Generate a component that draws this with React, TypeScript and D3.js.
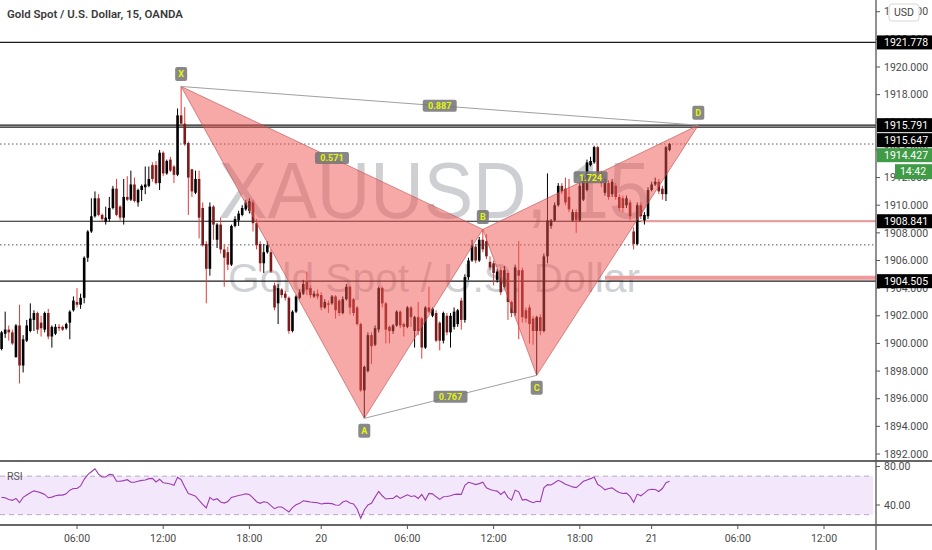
import * as React from 'react';
import * as d3 from 'd3';

// XAUUSD 15m candles, 19th 00:45 -> 21st 01:00
const opens = [
  1899.6, 1900.7, 1901.0, 1900.8, 1899.0, 1901.3, 1898.4, 1900.2, 1900.9, 1901.7,
  1902.2, 1901.5, 1901.0, 1902.2, 1900.5, 1900.7, 1901.2, 1901.2, 1901.1, 1901.5,
  1902.4, 1903.0, 1902.8, 1903.3, 1906.2, 1908.1, 1909.2, 1910.5, 1909.3, 1908.8,
  1909.0, 1909.8, 1911.2, 1909.9, 1909.1, 1910.6, 1910.4, 1911.5, 1910.2, 1911.1,
  1911.3, 1911.4, 1912.9, 1912.9, 1911.6, 1913.8, 1912.3, 1913.3, 1912.8, 1912.2,
  1916.5, 1915.9, 1914.5, 1912.6, 1910.9, 1911.9, 1909.8, 1907.2, 1905.4, 1909.9,
  1907.5, 1908.6, 1906.8, 1906.6, 1905.7, 1908.5, 1908.9, 1909.3, 1909.7, 1909.6,
  1910.2, 1908.7, 1907.2, 1905.8, 1906.6, 1906.6, 1904.2, 1902.9, 1903.9, 1903.6,
  1903.3, 1900.9, 1902.3, 1903.3, 1903.6, 1904.5, 1904.0, 1903.4, 1903.6, 1903.5,
  1902.6, 1902.9, 1902.9, 1903.4, 1903.1, 1902.2, 1903.2, 1904.1, 1903.2, 1902.6,
  1901.4, 1896.6, 1898.0, 1900.6, 1899.9, 1901.0, 1904.0, 1902.9, 1901.2, 1900.9,
  1901.3, 1902.3, 1901.4, 1901.2, 1902.6, 1900.9, 1901.9, 1901.8, 1899.7, 1902.6,
  1902.0, 1902.2, 1901.5, 1900.2, 1902.0, 1900.8, 1901.2, 1901.4, 1903.1, 1901.7,
  1904.8, 1906.0, 1907.0, 1906.0, 1907.5, 1907.4, 1905.9, 1905.8, 1904.6, 1905.3,
  1904.1, 1905.1, 1903.0, 1902.2, 1905.3, 1905.3, 1902.4, 1902.6, 1901.8, 1900.9,
  1901.9, 1900.9, 1906.3, 1908.5, 1908.9, 1910.0, 1911.4, 1911.2, 1910.6, 1908.9,
  1909.5, 1908.9, 1910.4, 1911.1, 1912.9, 1913.1, 1914.2, 1912.3, 1910.9, 1911.6,
  1910.8, 1911.4, 1910.6, 1910.5, 1910.0, 1910.2, 1908.1, 1907.2, 1910.0, 1908.9,
  1909.2, 1911.1, 1911.5, 1911.7, 1911.2, 1910.8, 1914.0,
];
const highs = [
  1900.9, 1902.3, 1901.3, 1901.0, 1901.4, 1902.8, 1900.6, 1901.7, 1902.9, 1902.4,
  1902.3, 1902.0, 1902.3, 1902.5, 1901.3, 1901.4, 1901.4, 1901.3, 1901.5, 1902.4,
  1903.4, 1904.0, 1903.6, 1906.3, 1908.2, 1910.5, 1911.0, 1910.8, 1909.4, 1909.9,
  1910.6, 1911.4, 1911.9, 1910.0, 1911.9, 1912.1, 1912.5, 1912.0, 1911.2, 1911.5,
  1912.8, 1912.8, 1913.1, 1913.2, 1914.0, 1913.9, 1913.3, 1913.5, 1912.9, 1917.0,
  1918.6, 1917.1, 1914.6, 1912.6, 1912.5, 1912.5, 1910.2, 1907.4, 1910.2, 1910.0,
  1908.7, 1909.1, 1907.2, 1907.0, 1908.6, 1909.2, 1909.6, 1910.0, 1910.4, 1910.5,
  1910.4, 1909.0, 1907.4, 1907.2, 1907.4, 1906.8, 1904.4, 1904.3, 1904.0, 1903.8,
  1903.4, 1902.4, 1903.5, 1903.9, 1904.6, 1905.2, 1904.2, 1903.8, 1903.9, 1903.7,
  1903.2, 1903.1, 1903.5, 1903.5, 1903.2, 1903.4, 1904.3, 1904.2, 1903.3, 1902.7,
  1901.5, 1898.4, 1900.8, 1900.8, 1901.3, 1904.1, 1904.1, 1903.0, 1901.3, 1901.4,
  1902.4, 1902.4, 1901.5, 1902.7, 1902.7, 1902.0, 1903.0, 1901.9, 1902.7, 1904.1,
  1902.6, 1902.4, 1901.6, 1902.3, 1902.2, 1902.2, 1902.6, 1902.5, 1903.3, 1905.0,
  1906.2, 1907.5, 1907.2, 1907.7, 1908.25, 1907.9, 1906.3, 1906.0, 1905.4, 1905.5,
  1905.6, 1905.3, 1903.1, 1905.7, 1907.4, 1905.5, 1902.6, 1902.8, 1902.0, 1902.0,
  1902.1, 1906.5, 1912.3, 1909.0, 1910.2, 1911.6, 1911.6, 1912.0, 1911.9, 1909.7,
  1909.7, 1911.6, 1912.1, 1913.3, 1913.5, 1914.3, 1914.3, 1912.5, 1912.0, 1911.8,
  1911.9, 1911.6, 1910.8, 1910.7, 1910.7, 1910.4, 1908.4, 1910.2, 1910.2, 1909.5,
  1911.3, 1911.7, 1912.0, 1911.9, 1911.4, 1914.3, 1914.5,
];
const lows = [
  1899.5, 1900.4, 1900.2, 1899.9, 1899.0, 1897.1, 1897.9, 1900.1, 1900.8, 1900.9,
  1900.7, 1900.5, 1900.8, 1900.3, 1899.7, 1900.6, 1900.9, 1900.9, 1901.0, 1900.3,
  1902.3, 1902.6, 1902.5, 1902.9, 1905.9, 1908.0, 1909.1, 1909.2, 1908.8, 1908.6,
  1908.8, 1909.7, 1909.2, 1908.9, 1908.6, 1910.3, 1910.3, 1910.2, 1909.9, 1910.3,
  1910.8, 1911.3, 1911.7, 1911.5, 1911.1, 1912.1, 1912.2, 1912.4, 1911.6, 1912.1,
  1915.7, 1914.3, 1909.3, 1910.6, 1910.8, 1907.6, 1907.0, 1902.9, 1904.9, 1907.5,
  1906.9, 1906.5, 1904.1, 1905.3, 1905.6, 1908.4, 1908.5, 1909.2, 1909.6, 1909.4,
  1908.1, 1906.8, 1905.2, 1905.1, 1906.5, 1905.1, 1902.4, 1901.4, 1903.3, 1903.1,
  1900.7, 1900.8, 1902.2, 1903.2, 1903.5, 1903.5, 1903.3, 1903.3, 1903.2, 1902.4,
  1902.5, 1902.2, 1902.8, 1901.8, 1902.0, 1902.1, 1903.1, 1902.1, 1902.0, 1901.3,
  1896.5, 1894.6, 1897.9, 1898.5, 1899.8, 1900.8, 1902.6, 1900.0, 1900.0, 1900.7,
  1901.2, 1901.1, 1900.5, 1901.1, 1901.2, 1899.7, 1900.6, 1898.9, 1899.6, 1902.2,
  1901.9, 1900.1, 1899.5, 1900.0, 1900.6, 1899.7, 1901.0, 1901.2, 1901.0, 1901.5,
  1904.6, 1905.9, 1905.8, 1905.9, 1906.6, 1906.1, 1905.3, 1904.2, 1904.4, 1903.5,
  1904.0, 1901.7, 1901.9, 1902.0, 1900.3, 1901.5, 1901.5, 1900.0, 1899.9, 1897.7,
  1900.6, 1900.8, 1905.8, 1908.3, 1908.8, 1909.9, 1910.8, 1910.0, 1909.5, 1908.8,
  1908.0, 1908.8, 1910.3, 1911.0, 1912.8, 1913.0, 1912.1, 1911.3, 1910.7, 1910.4,
  1910.6, 1910.4, 1909.6, 1909.5, 1909.8, 1908.9, 1906.8, 1907.1, 1909.0, 1908.6,
  1909.0, 1911.0, 1911.4, 1910.8, 1910.4, 1910.3, 1913.9,
];
const closes = [
  1900.8, 1901.0, 1900.8, 1900.0, 1901.3, 1898.4, 1900.3, 1901.3, 1901.8, 1902.2,
  1901.0, 1901.1, 1902.2, 1900.5, 1901.2, 1901.2, 1901.1, 1901.0, 1901.4, 1902.3,
  1903.1, 1902.8, 1903.3, 1906.2, 1908.1, 1909.2, 1910.5, 1909.3, 1909.0, 1909.1,
  1909.8, 1911.2, 1909.3, 1909.1, 1910.6, 1910.4, 1911.5, 1910.3, 1911.1, 1911.4,
  1911.5, 1911.9, 1911.9, 1911.6, 1913.8, 1912.3, 1913.2, 1912.5, 1912.2, 1916.5,
  1915.9, 1914.4, 1912.0, 1911.0, 1911.9, 1909.1, 1907.1, 1905.4, 1909.9, 1908.6,
  1908.6, 1906.8, 1906.2, 1905.7, 1908.5, 1909.0, 1909.4, 1909.8, 1910.2, 1910.3,
  1908.7, 1907.1, 1905.8, 1906.6, 1907.1, 1905.2, 1902.6, 1904.0, 1903.5, 1903.3,
  1900.9, 1902.3, 1903.4, 1903.7, 1904.3, 1903.9, 1903.5, 1903.6, 1903.4, 1902.6,
  1903.0, 1902.8, 1903.4, 1902.4, 1902.2, 1903.2, 1904.1, 1902.6, 1902.2, 1901.4,
  1896.6, 1898.3, 1900.6, 1899.8, 1901.1, 1904.0, 1902.9, 1901.0, 1900.9, 1901.3,
  1902.3, 1901.3, 1901.2, 1902.6, 1901.9, 1901.9, 1900.9, 1899.7, 1902.6, 1902.3,
  1902.5, 1900.2, 1900.2, 1902.2, 1900.8, 1902.0, 1902.3, 1902.4, 1901.7, 1904.8,
  1906.0, 1907.1, 1906.0, 1907.5, 1906.8, 1906.3, 1905.5, 1905.1, 1905.2, 1903.7,
  1905.3, 1903.0, 1902.2, 1905.5, 1904.9, 1901.9, 1901.8, 1901.4, 1900.9, 1901.9,
  1900.9, 1906.3, 1908.9, 1908.9, 1910.0, 1911.4, 1911.0, 1910.2, 1909.7, 1909.5,
  1908.9, 1911.4, 1911.9, 1913.1, 1913.2, 1914.2, 1912.3, 1911.6, 1911.9, 1910.6,
  1911.7, 1910.6, 1909.8, 1909.8, 1910.5, 1909.2, 1907.2, 1910.0, 1909.2, 1909.3,
  1911.1, 1911.5, 1911.7, 1911.0, 1910.8, 1914.2, 1914.427,
];
const rsiValues = [
  47.9, 47.5, 45.8, 44.8, 46.8, 42.4, 47.9, 50.3, 52.7, 54.7,
  53.7, 52.6, 51.0, 47.5, 48.2, 49.6, 50.3, 50.3, 51.6, 55.4,
  57.1, 57.1, 59.8, 66.7, 71.5, 74.5, 77.6, 72.1, 69.1, 69.1,
  71.8, 71.5, 64.6, 64.6, 65.3, 66.3, 63.6, 63.6, 64.6, 65.6,
  66.0, 67.4, 67.7, 63.9, 66.7, 63.2, 62.6, 61.9, 60.5, 68.7,
  66.3, 58.8, 52.0, 50.6, 49.2, 44.8, 40.7, 36.9, 47.9, 45.1,
  46.5, 43.1, 42.0, 43.7, 47.9, 48.9, 49.9, 50.6, 51.6, 50.9,
  47.5, 43.4, 41.7, 43.4, 42.7, 39.3, 36.2, 38.0, 38.0, 35.5,
  32.8, 37.3, 40.3, 41.7, 44.4, 43.8, 43.1, 42.7, 42.4, 41.0,
  41.7, 41.7, 41.4, 40.0, 39.7, 43.1, 44.4, 42.0, 41.0, 35.9,
  26.3, 34.9, 40.0, 41.7, 48.2, 54.0, 49.6, 46.2, 46.8, 46.8,
  49.6, 46.8, 48.9, 50.6, 48.9, 49.6, 46.8, 50.9, 45.1, 52.0,
  51.6, 48.5, 45.8, 48.5, 48.9, 49.6, 50.9, 51.3, 51.0, 60.5,
  63.6, 62.6, 61.2, 62.2, 63.6, 57.8, 56.1, 55.0, 54.4, 50.9,
  54.0, 47.9, 45.1, 55.4, 53.7, 45.1, 45.8, 43.8, 42.4, 43.8,
  43.4, 57.8, 61.2, 60.8, 63.2, 65.6, 63.9, 61.5, 60.2, 58.8,
  58.1, 61.2, 64.6, 66.0, 67.4, 69.1, 61.2, 59.1, 55.7, 57.1,
  57.8, 55.0, 53.0, 52.0, 52.3, 48.9, 42.7, 51.3, 49.6, 52.3,
  55.7, 56.4, 56.1, 54.0, 57.1, 63.2, 64.6,
];

// time axis: candle index of each label
const timeTickBars = [21, 45, 69, 89, 113, 137, 161, 181, 205, 229];
const timeTickLabels = ['06:00', '12:00', '18:00', '20', '06:00', '12:00', '18:00', '21', '06:00', '12:00'];

const priceTicks = [1892, 1894, 1896, 1898, 1900, 1902, 1904, 1906, 1908, 1910, 1912, 1914, 1916, 1918, 1920, 1922, 1924];
const rsiTicks = [80, 40];
const rsiBands = [70, 30];

// horizontal levels drawn on the chart
const solidLevels = [1921.778, 1915.791, 1915.647, 1908.841, 1904.505];
const dottedLevels = [1914.427, 1907.13];
const rayLevels = [1908.841, 1904.75];
const rayStartBars = [178, 168];
const lastPrice = 1914.427;
const countdown = '14:42';

// XABCD pattern
const patternNames = ['X', 'A', 'B', 'C', 'D'];
const patternBars = [50, 101, 134, 149, 194];
const patternPrices = [1918.59, 1894.58, 1908.25, 1897.69, 1915.79];
const patternSides = [-1, 1, -1, 1, -1];
const ratioLabels = ['0.571', '0.887', '0.767', '1.724'];
const ratioPairs = [[0, 2], [0, 4], [1, 3], [2, 4]];

const title = 'Gold Spot / U.S. Dollar, 15, OANDA';
const symbol = 'XAUUSD, 15';
const description = 'Gold Spot / U.S. Dollar';

const W = 932;
const H = 550;
const AXIS_X = 876;
const FONT = 'Roboto, "Liberation Sans", sans-serif';

export default function App() {
  const ref = React.useRef<SVGSVGElement>(null);

  React.useEffect(() => {
    const svg = d3.select(ref.current);
    svg.selectAll('*').remove();

    const x = d3
      .scaleLinear()
      .domain([timeTickBars[0], timeTickBars[timeTickBars.length - 1]])
      .range([77, 824]);
    const y = d3.scaleLinear().domain([1892, 1920]).range([454, 67]);
    const yRsi = d3.scaleLinear().domain([40, 80]).range([505, 466.5]);

    svg.append('rect').attr('width', W).attr('height', H).attr('fill', '#fff');

    // watermark
    const wm = svg
      .append('g')
      .attr('fill', 'rgba(120,123,134,0.36)')
      .attr('font-family', '"Liberation Sans", Arial, sans-serif');
    wm.append('text')
      .attr('x', 218)
      .attr('y', 218)
      .attr('font-size', 80)
      .attr('textLength', 432)
      .attr('lengthAdjust', 'spacingAndGlyphs')
      .text(symbol);
    wm.append('text')
      .attr('x', 228)
      .attr('y', 292)
      .attr('font-size', 40)
      .attr('textLength', 412)
      .attr('lengthAdjust', 'spacingAndGlyphs')
      .text(description);

    // horizontal levels
    svg
      .append('g')
      .selectAll('line')
      .data(solidLevels)
      .join('line')
      .attr('x1', 0)
      .attr('x2', AXIS_X)
      .attr('y1', (d) => y(d))
      .attr('y2', (d) => y(d))
      .attr('stroke', '#1a1a1a')
      .attr('stroke-width', 1.2);
    svg
      .append('g')
      .selectAll('line')
      .data(dottedLevels)
      .join('line')
      .attr('x1', 0)
      .attr('x2', AXIS_X)
      .attr('y1', (d) => y(d))
      .attr('y2', (d) => y(d))
      .attr('stroke', '#555')
      .attr('stroke-dasharray', '1.5,2.5');
    svg
      .append('g')
      .selectAll('line')
      .data(rayLevels)
      .join('line')
      .attr('x1', (_d, i) => x(rayStartBars[i]))
      .attr('x2', AXIS_X)
      .attr('y1', (d) => y(d))
      .attr('y2', (d) => y(d))
      .attr('stroke', '#ef9a9a')
      .attr('stroke-width', (_d, i) => (i === 0 ? 2 : 4));

    // candles
    const candles = closes.map((c, i) => ({ i, o: opens[i], h: highs[i], l: lows[i], c }));
    const cg = svg.append('g');
    cg.selectAll('line')
      .data(candles)
      .join('line')
      .attr('x1', (d) => x(d.i))
      .attr('x2', (d) => x(d.i))
      .attr('y1', (d) => y(d.h))
      .attr('y2', (d) => y(d.l))
      .attr('stroke', (d) => (d.c >= d.o ? '#000' : '#e53935'))
      .attr('stroke-width', 1);
    cg.selectAll('rect')
      .data(candles)
      .join('rect')
      .attr('x', (d) => x(d.i) - 1.3)
      .attr('width', 2.6)
      .attr('y', (d) => y(Math.max(d.o, d.c)))
      .attr('height', (d) => Math.max(1, Math.abs(y(d.o) - y(d.c))))
      .attr('fill', (d) => (d.c >= d.o ? '#000' : '#7b1c1c'));

    // harmonic pattern
    const pts = patternNames.map((n, i) => ({
      n,
      px: x(patternBars[i]),
      py: y(patternPrices[i]),
      side: patternSides[i],
    }));
    const line = d3.line<{ px: number; py: number }>().x((d) => d.px).y((d) => d.py);
    const pg = svg.append('g');
    [[0, 1, 2], [2, 3, 4]].forEach((tri) => {
      pg.append('path')
        .attr('d', line(tri.map((t) => pts[t])) + 'Z')
        .attr('fill', 'rgba(239,83,80,0.5)')
        .attr('stroke', 'rgba(190,80,80,0.8)')
        .attr('stroke-width', 0.8);
    });
    [[0, 4], [1, 3]].forEach(([a, b]) => {
      pg.append('line')
        .attr('x1', pts[a].px)
        .attr('y1', pts[a].py)
        .attr('x2', pts[b].px)
        .attr('y2', pts[b].py)
        .attr('stroke', '#a0a0a0')
        .attr('stroke-width', 1);
    });
    ratioLabels.forEach((r, i) => {
      const [a, b] = ratioPairs[i];
      const cx = (pts[a].px + pts[b].px) / 2;
      const cy = (pts[a].py + pts[b].py) / 2;
      pg.append('rect')
        .attr('x', cx - 17)
        .attr('y', cy - 6)
        .attr('width', 34)
        .attr('height', 12)
        .attr('rx', 2)
        .attr('fill', 'rgba(115,115,115,0.85)');
      pg.append('text')
        .attr('x', cx)
        .attr('y', cy)
        .attr('dy', '0.36em')
        .attr('text-anchor', 'middle')
        .attr('font-family', FONT)
        .attr('font-weight', 700)
        .attr('font-size', 9)
        .attr('fill', '#e2f50a')
        .text(r);
    });
    pts.forEach((p) => {
      const cy = p.py + p.side * 12.5;
      pg.append('rect')
        .attr('x', p.px - 6)
        .attr('y', cy - 7)
        .attr('width', 12)
        .attr('height', 14)
        .attr('rx', 2)
        .attr('fill', 'rgba(115,115,115,0.85)');
      pg.append('text')
        .attr('x', p.px)
        .attr('y', cy)
        .attr('dy', '0.36em')
        .attr('text-anchor', 'middle')
        .attr('font-family', FONT)
        .attr('font-weight', 700)
        .attr('font-size', 9)
        .attr('fill', '#e2f50a')
        .text(p.n);
    });

    // RSI pane
    const rg = svg.append('g');
    rg.append('rect')
      .attr('x', 0)
      .attr('width', AXIS_X - 3)
      .attr('y', yRsi(rsiBands[0]))
      .attr('height', yRsi(rsiBands[1]) - yRsi(rsiBands[0]))
      .attr('fill', '#f3e8fb');
    rg.selectAll('line.band')
      .data(rsiBands)
      .join('line')
      .attr('x1', 0)
      .attr('x2', AXIS_X - 3)
      .attr('y1', (d) => yRsi(d))
      .attr('y2', (d) => yRsi(d))
      .attr('stroke', '#b9aac8')
      .attr('stroke-dasharray', '5,4');
    rg.append('path')
      .attr(
        'd',
        d3
          .line<number>()
          .x((_d, i) => x(i))
          .y((d) => yRsi(d))(rsiValues)
      )
      .attr('fill', 'none')
      .attr('stroke', '#9c3cb0')
      .attr('stroke-width', 1.1);
    rg.append('text')
      .attr('x', 7)
      .attr('y', 480)
      .attr('font-family', FONT)
      .attr('font-size', 10.5)
      .attr('fill', '#555')
      .text('RSI');

    // pane separators and axis line
    [461, 525].forEach((sy) => {
      svg.append('line')
        .attr('x1', 0)
        .attr('x2', W)
        .attr('y1', sy)
        .attr('y2', sy)
        .attr('stroke', '#333')
        .attr('stroke-width', 1.3);
    });
    svg.append('line')
      .attr('x1', AXIS_X)
      .attr('x2', AXIS_X)
      .attr('y1', 0)
      .attr('y2', H)
      .attr('stroke', '#555')
      .attr('stroke-width', 1.3);

    // price axis ticks
    const ag = svg.append('g').attr('font-family', FONT).attr('font-size', 10.5).attr('fill', '#4a4a4a');
    priceTicks.forEach((p) => {
      ag.append('line')
        .attr('x1', AXIS_X)
        .attr('x2', AXIS_X + 4)
        .attr('y1', y(p))
        .attr('y2', y(p))
        .attr('stroke', '#555');
      ag.append('text').attr('x', 884).attr('y', y(p)).attr('dy', '0.35em').text(p.toFixed(3));
    });
    rsiTicks.forEach((r) => {
      ag.append('line')
        .attr('x1', AXIS_X)
        .attr('x2', AXIS_X + 4)
        .attr('y1', yRsi(r))
        .attr('y2', yRsi(r))
        .attr('stroke', '#555');
      ag.append('text').attr('x', 884).attr('y', yRsi(r)).attr('dy', '0.35em').text(r.toFixed(2));
    });

    // price labels, pushed apart when they overlap
    const labels = [...solidLevels, lastPrice]
      .map((v) => ({ v, pos: y(v), last: v === lastPrice }))
      .sort((a, b) => a.pos - b.pos);
    labels.forEach((l, i) => {
      if (i > 0) l.pos = Math.max(l.pos, labels[i - 1].pos + 15);
    });
    labels.forEach((l) => {
      const fill = l.last ? '#3f9b45' : '#000';
      ag.append('rect').attr('x', 877).attr('y', l.pos - 7).attr('width', 55).attr('height', 14).attr('fill', fill);
      ag.append('text')
        .attr('x', 884)
        .attr('y', l.pos)
        .attr('dy', '0.35em')
        .attr('fill', '#fff')
        .text(l.v.toFixed(3));
      if (l.last) {
        ag.append('rect').attr('x', 895).attr('y', l.pos + 9).attr('width', 37).attr('height', 15).attr('fill', fill);
        ag.append('text')
          .attr('x', 913)
          .attr('y', l.pos + 16.5)
          .attr('dy', '0.35em')
          .attr('text-anchor', 'middle')
          .attr('fill', '#fff')
          .text(countdown);
      }
    });

    // currency button
    ag.append('rect')
      .attr('x', 889)
      .attr('y', 4)
      .attr('width', 30)
      .attr('height', 17)
      .attr('rx', 3)
      .attr('fill', '#fff')
      .attr('stroke', '#d6d6d6');
    ag.append('text').attr('x', 904).attr('y', 12.5).attr('dy', '0.35em').attr('text-anchor', 'middle').attr('fill', '#444').text('USD');

    // time axis
    const tg = svg.append('g').attr('font-family', FONT).attr('font-size', 10.5).attr('fill', '#4a4a4a');
    timeTickBars.forEach((b, i) => {
      tg.append('line').attr('x1', x(b)).attr('x2', x(b)).attr('y1', 525).attr('y2', 529).attr('stroke', '#555');
      tg.append('text').attr('x', x(b)).attr('y', 538).attr('dy', '0.35em').attr('text-anchor', 'middle').text(timeTickLabels[i]);
    });

    // header
    svg.append('text')
      .attr('x', 7)
      .attr('y', 18)
      .attr('font-family', FONT)
      .attr('font-size', 11)
      .attr('font-weight', 600)
      .attr('fill', '#3a3a3a')
      .attr('textLength', 176)
      .attr('lengthAdjust', 'spacingAndGlyphs')
      .text(title);
  }, []);

  return (
    <div style={{ position: 'fixed', left: 0, top: 0, width: W, height: H, background: '#fff' }}>
      <svg ref={ref} width={W} height={H} style={{ display: 'block' }} />
    </div>
  );
}
